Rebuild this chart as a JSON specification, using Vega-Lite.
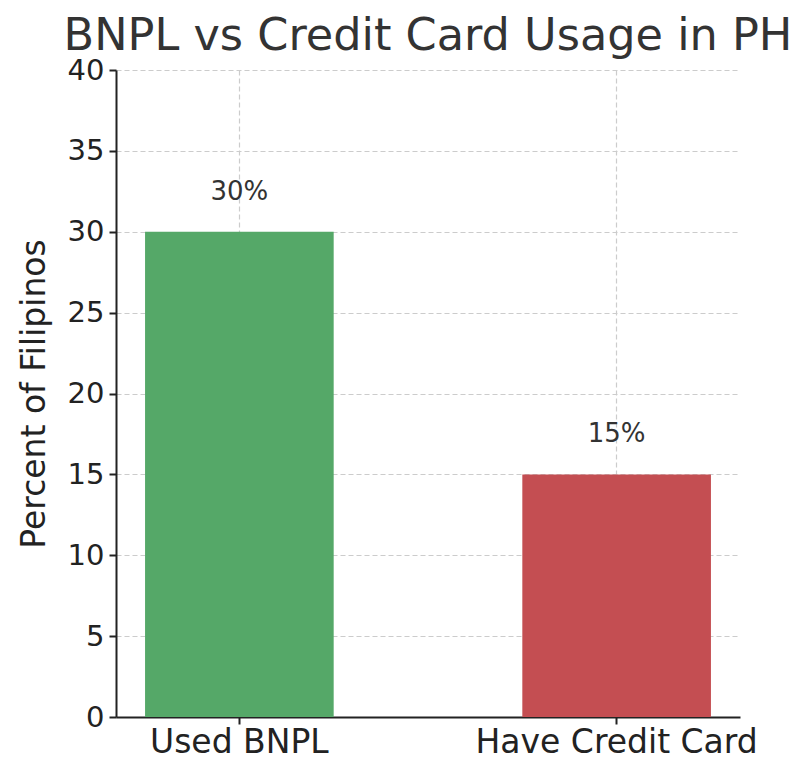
{
  "$schema": "https://vega.github.io/schema/vega-lite/v6.json",
  "autosize": "none",
  "padding": {"left": 116, "top": 70, "right": 71, "bottom": 63},
  "width": 624,
  "height": 647,
  "background": "white",
  "title": {
    "text": "BNPL vs Credit Card Usage in PH",
    "anchor": "middle",
    "font": "DejaVu Sans",
    "fontSize": 44.6,
    "fontWeight": "normal",
    "color": "#333333",
    "baseline": "alphabetic",
    "offset": 3,
    "dy": 42
  },
  "data": {
    "values": [
      {"category": "Used BNPL", "percent": 30, "label": "30%"},
      {"category": "Have Credit Card", "percent": 15, "label": "15%"}
    ]
  },
  "encoding": {
    "x": {
      "field": "category",
      "type": "nominal",
      "sort": null,
      "scale": {"paddingInner": 0.5, "paddingOuter": 0.077},
      "axis": {
        "title": null,
        "labelAngle": 0,
        "labelLimit": 0,
        "labelFont": "DejaVu Sans",
        "labelFontSize": 33,
        "labelColor": "#222222",
        "labelPadding": 2,
        "domainColor": "#222222",
        "domainWidth": 2,
        "tickColor": "#222222",
        "tickWidth": 2,
        "tickSize": 7,
        "grid": true,
        "gridColor": "#cccccc",
        "gridDash": [5, 3],
        "gridWidth": 1.2
      }
    },
    "y": {
      "field": "percent",
      "type": "quantitative",
      "scale": {"domain": [0, 40], "nice": false},
      "axis": {
        "title": "Percent of Filipinos",
        "titleFont": "DejaVu Sans",
        "titleFontSize": 33,
        "titleFontWeight": "normal",
        "titleColor": "#222222",
        "titlePadding": 16,
        "values": [0, 5, 10, 15, 20, 25, 30, 35, 40],
        "labelFont": "DejaVu Sans",
        "labelFontSize": 29,
        "labelColor": "#222222",
        "labelPadding": 5,
        "domainColor": "#222222",
        "domainWidth": 2,
        "tickColor": "#222222",
        "tickWidth": 2,
        "tickSize": 7,
        "grid": true,
        "gridColor": "#cccccc",
        "gridDash": [5, 3],
        "gridWidth": 1.2
      }
    }
  },
  "layer": [
    {
      "mark": {"type": "bar"},
      "encoding": {
        "color": {
          "field": "category",
          "type": "nominal",
          "scale": {"domain": ["Used BNPL", "Have Credit Card"], "range": ["#55a868", "#c44e52"]},
          "legend": null
        }
      }
    },
    {
      "mark": {
        "type": "text",
        "font": "DejaVu Sans",
        "fontSize": 26,
        "color": "#333333",
        "baseline": "alphabetic",
        "dy": -32
      },
      "encoding": {
        "text": {"field": "label"}
      }
    }
  ],
  "config": {
    "view": {"stroke": null}
  }
}
